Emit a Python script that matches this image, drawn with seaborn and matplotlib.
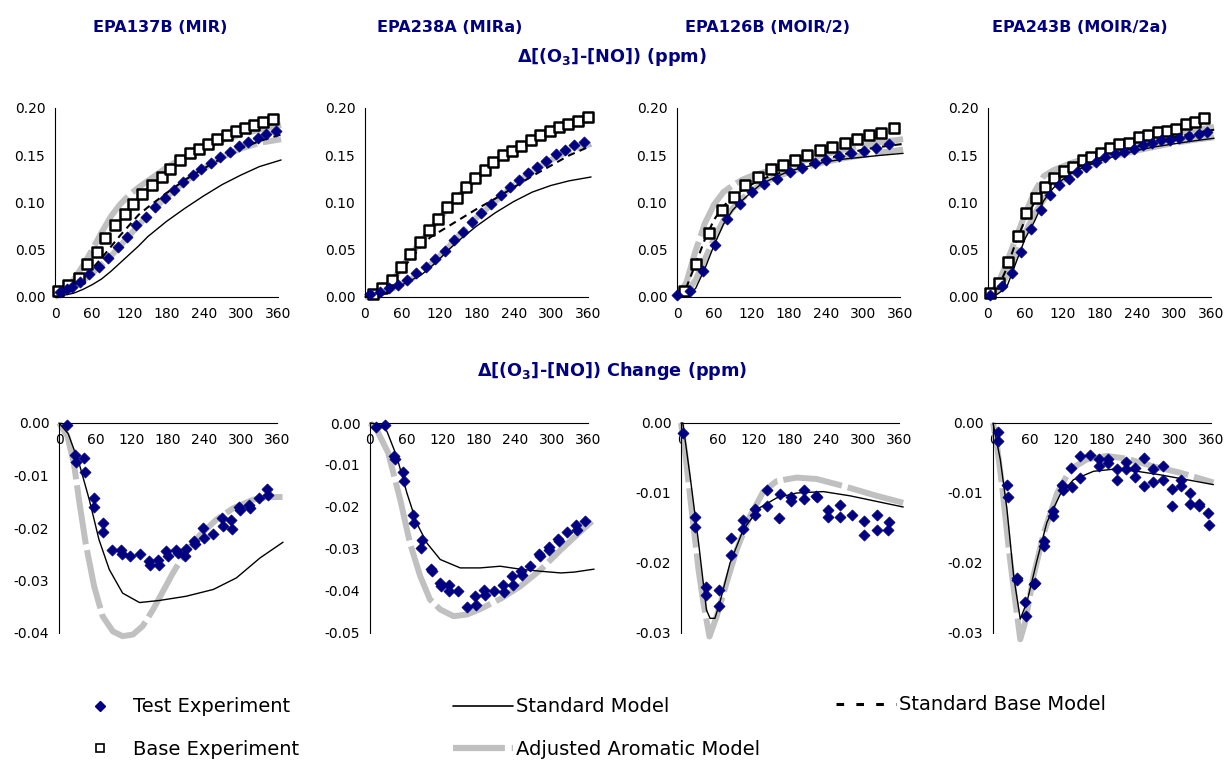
import numpy as np
import pandas as pd
import seaborn as sns
import matplotlib
matplotlib.use("Agg")
import matplotlib.pyplot as plt
from matplotlib.lines import Line2D
from matplotlib.ticker import FuncFormatter, MultipleLocator

# ---------------- data ----------------
titles = ["EPA137B (MIR)", "EPA238A (MIRa)", "EPA126B (MOIR/2)", "EPA243B (MOIR/2a)"]
x_ticks = [0, 60, 120, 180, 240, 300, 360]

# common time grid for the top-row model curves (minutes)
top_t = [0, 15, 30, 45, 60, 75, 90, 105, 120, 135, 150, 180, 210, 240, 270, 300, 330, 365]

# Panel 1 : EPA137B
p1_test_t = [8, 19, 28, 40, 55, 71, 86, 101, 117, 131, 147, 162, 177, 192, 207, 222, 236, 252, 266, 282, 297, 311, 327, 341, 357]
p1_test_v = [.005, .008, .011, .016, .024, .032, .041, .053, .064, .076, .085, .095, .105, .113, .122, .129, .135, .142, .148, .153, .160, .164, .168, .173, .176]
p1_base_t = [5, 21, 38, 52, 67, 81, 97, 113, 126, 141, 156, 172, 186, 202, 218, 232, 247, 261, 277, 292, 306, 321, 336, 352]
p1_base_v = [.006, .013, .020, .035, .048, .062, .076, .088, .098, .109, .118, .127, .135, .145, .152, .157, .162, .167, .171, .176, .179, .182, .185, .188]
p1_std = [0, .002, .004, .008, .013, .019, .027, .036, .045, .054, .064, .080, .094, .107, .119, .129, .138, .145]
p1_stdbase = [0, .005, .012, .021, .030, .041, .053, .065, .076, .087, .095, .110, .124, .136, .147, .157, .165, .172]
p1_adjtest = [0, .005, .010, .017, .025, .034, .043, .054, .065, .076, .087, .106, .122, .136, .148, .157, .163, .167]
p1_adjbase = [0, .007, .018, .033, .050, .068, .085, .098, .108, .116, .123, .137, .149, .158, .166, .172, .177, .182]

# Panel 2 : EPA238A
p2_test_t = [8, 24, 39, 54, 68, 83, 98, 113, 129, 143, 158, 173, 188, 204, 219, 234, 249, 263, 278, 293, 309, 323, 338, 353]
p2_test_v = [.003, .005, .009, .013, .018, .025, .032, .040, .049, .060, .069, .079, .089, .098, .108, .116, .124, .131, .138, .144, .151, .156, .161, .164]
p2_base_t = [13, 28, 43, 58, 72, 88, 103, 118, 133, 148, 163, 177, 193, 207, 222, 237, 252, 268, 282, 298, 313, 328, 344, 360]
p2_base_v = [.003, .009, .018, .032, .046, .058, .071, .083, .095, .105, .116, .126, .134, .143, .150, .155, .160, .166, .171, .176, .180, .183, .186, .190]
p2_std = [0, .002, .005, .009, .013, .018, .023, .031, .040, .050, .059, .075, .089, .101, .111, .118, .123, .127]
p2_stdbase = [0, .003, .009, .019, .030, .041, .053, .063, .069, .075, .081, .093, .104, .116, .128, .139, .150, .160]
p2_adjtest = [0, .002, .005, .009, .014, .019, .026, .034, .043, .053, .064, .084, .101, .118, .133, .145, .155, .162]
p2_adjbase = [0, .003, .008, .018, .032, .046, .058, .071, .083, .095, .106, .126, .143, .155, .165, .174, .182, .188]

# Panel 3 : EPA126B
p3_test_t = [0, 21, 42, 62, 81, 102, 121, 141, 162, 183, 202, 222, 241, 261, 281, 302, 322, 342]
p3_test_v = [.002, .006, .028, .055, .083, .098, .111, .120, .125, .132, .136, .142, .145, .149, .152, .155, .158, .162]
p3_base_t = [12, 31, 51, 72, 92, 110, 130, 151, 171, 190, 210, 231, 251, 271, 291, 310, 330, 351]
p3_base_v = [.006, .035, .068, .092, .106, .119, .127, .135, .140, .145, .150, .156, .159, .163, .167, .171, .174, .179]
p3_std = [0, .002, .009, .030, .055, .077, .092, .102, .111, .119, .124, .133, .138, .143, .146, .148, .150, .152]
p3_stdbase = [0, .010, .035, .061, .082, .096, .106, .113, .119, .124, .128, .134, .140, .146, .151, .156, .159, .162]
p3_adjtest = [0, .004, .018, .040, .062, .081, .094, .104, .112, .119, .124, .132, .138, .143, .147, .150, .153, .156]
p3_adjbase = [0, .015, .049, .078, .098, .111, .118, .124, .128, .131, .134, .140, .145, .151, .156, .160, .164, .167]

# Panel 4 : EPA243B
p4_test_t = [3, 22, 38, 54, 70, 85, 100, 115, 130, 144, 159, 174, 189, 205, 220, 235, 250, 265, 280, 294, 309, 325, 340, 354]
p4_test_v = [.002, .012, .025, .048, .072, .092, .108, .119, .125, .132, .138, .143, .148, .151, .153, .157, .161, .163, .166, .166, .168, .170, .173, .175]
p4_base_t = [3, 18, 32, 48, 62, 77, 92, 107, 123, 138, 153, 167, 182, 197, 212, 228, 243, 258, 274, 289, 304, 319, 334, 349]
p4_base_v = [.004, .015, .037, .065, .089, .105, .116, .126, .133, .138, .145, .148, .152, .158, .162, .163, .169, .171, .175, .176, .178, .183, .185, .189]
p4_std = [0, .003, .010, .036, .062, .080, .102, .115, .124, .131, .136, .144, .150, .155, .159, .162, .165, .168]
p4_stdbase = [0, .008, .030, .058, .082, .100, .113, .121, .128, .134, .139, .147, .153, .159, .164, .169, .173, .177]
p4_adjtest = [0, .006, .022, .045, .068, .088, .103, .115, .123, .130, .135, .143, .150, .155, .159, .163, .166, .169]
p4_adjbase = [0, .012, .036, .062, .088, .111, .128, .134, .138, .142, .145, .152, .157, .163, .167, .172, .176, .180]

# Bottom row: change (test - base)
p5_chg_t = [13, 27, 28, 42, 43, 57, 58, 72, 73, 88, 102, 104, 117, 133, 148, 150, 163, 165, 177, 180,
            194, 196, 208, 209, 223, 224, 238, 239, 255, 269, 270, 284, 285, 298, 299, 313, 315, 330, 343, 345]
p5_chg_v = [-.0003, -.0060, -.0075, -.0067, -.0094, -.0143, -.0160, -.0190, -.0208, -.0241,
            -.0241, -.0250, -.0254, -.0250, -.0263, -.0270, -.0260, -.0270, -.0244, -.0253,
            -.0241, -.0248, -.0254, -.0240, -.0225, -.0230, -.0200, -.0219, -.0211, -.0181,
            -.0197, -.0184, -.0201, -.0160, -.0165, -.0156, -.0162, -.0143, -.0126, -.0137]
p5_std_t = [0, 15, 33, 50, 66, 83, 105, 133, 166, 210, 255, 293, 332, 370]
p5_std_v = [0, -.0020, -.0076, -.0146, -.0222, -.0279, -.0324, -.0342, -.0338, -.0330, -.0317, -.0295, -.0257, -.0227]
p5_adj_t = [0, 14, 25, 33, 44, 58, 72, 89, 105, 122, 138, 155, 172, 188, 210, 233, 260, 288, 321, 343, 370]
p5_adj_v = [0, -.0025, -.0080, -.0146, -.0229, -.0311, -.0368, -.0397, -.0406, -.0403, -.0387, -.0356, -.0320,
            -.0286, -.0244, -.0213, -.0184, -.0162, -.0146, -.0141, -.0141]

p6_chg_t = [10, 25, 40, 41, 55, 56, 71, 72, 86, 85, 101, 102, 116, 117, 131, 131, 146, 160, 174, 175,
            189, 190, 204, 219, 221, 235, 236, 250, 251, 265, 279, 280, 295, 296, 310, 312, 326, 341, 342, 355]
p6_chg_v = [-.0010, -.0004, -.0079, -.0086, -.0117, -.0137, -.0218, -.0238, -.0278, -.0298,
            -.0348, -.0353, -.0381, -.0389, -.0385, -.0401, -.0401, -.0438, -.0413, -.0433,
            -.0397, -.0409, -.0401, -.0385, -.0403, -.0365, -.0385, -.0353, -.0361, -.0341,
            -.0311, -.0317, -.0295, -.0302, -.0276, -.0282, -.0260, -.0244, -.0254, -.0234]
p6_std_t = [0, 15, 28, 44, 61, 77, 94, 116, 149, 182, 215, 248, 282, 315, 337, 370]
p6_std_v = [0, -.0003, -.0020, -.0079, -.0167, -.0238, -.0286, -.0325, -.0345, -.0345, -.0341, -.0348, -.0353, -.0357, -.0355, -.0348]
p6_adj_t = [0, 11, 30, 50, 66, 83, 99, 116, 138, 160, 182, 215, 248, 282, 315, 348, 370]
p6_adj_v = [0, -.0016, -.0071, -.0183, -.0286, -.0365, -.0420, -.0444, -.0460, -.0456, -.0443, -.0419, -.0389,
            -.0349, -.0302, -.0258, -.0230]

p7_chg_t = [3, 23, 23, 42, 42, 63, 63, 83, 82, 103, 102, 122, 122, 142, 142, 163, 162, 182, 182, 203,
            203, 223, 224, 243, 243, 263, 262, 283, 303, 303, 323, 323, 343, 342]
p7_chg_v = [-.0014, -.0134, -.0148, -.0234, -.0245, -.0239, -.0262, -.0164, -.0188, -.0138,
            -.0151, -.0123, -.0132, -.0096, -.0119, -.0102, -.0136, -.0105, -.0112, -.0096,
            -.0109, -.0104, -.0106, -.0124, -.0134, -.0117, -.0134, -.0132, -.0140, -.0160,
            -.0131, -.0153, -.0141, -.0153]
p7_std_t = [0, 3, 15, 29, 42, 48, 56, 64, 81, 103, 130, 158, 191, 235, 279, 323, 367]
p7_std_v = [0, 0, -.0076, -.0171, -.0267, -.0279, -.0279, -.0257, -.0200, -.0152, -.0121, -.0107, -.0100, -.0098, -.0104, -.0112, -.0120]
p7_adj_t = [0, 7, 15, 29, 37, 47, 59, 75, 92, 114, 136, 158, 191, 224, 268, 323, 367]
p7_adj_v = [0, -.0043, -.0105, -.0210, -.0257, -.0305, -.0276, -.0229, -.0181, -.0133, -.0098, -.0083, -.0078,
            -.0080, -.0090, -.0104, -.0114]

p8_chg_t = [9, 9, 23, 25, 39, 40, 53, 55, 67, 70, 84, 84, 99, 99, 114, 116, 129, 130, 144, 144,
            160, 175, 175, 190, 190, 205, 205, 220, 220, 235, 235, 250, 250, 265, 265, 281, 281,
            296, 296, 311, 311, 326, 325, 341, 341, 355, 356]
p8_chg_v = [-.0013, -.0026, -.0088, -.0105, -.0221, -.0224, -.0256, -.0276, -.0230, -.0228,
            -.0169, -.0176, -.0126, -.0133, -.0088, -.0095, -.0064, -.0091, -.0047, -.0078,
            -.0045, -.0052, -.0062, -.0051, -.0057, -.0066, -.0082, -.0056, -.0066, -.0064, -.0077,
            -.0050, -.0090, -.0066, -.0084, -.0062, -.0081, -.0094, -.0119, -.0081, -.0090,
            -.0100, -.0116, -.0115, -.0118, -.0128, -.0146]
p8_std_t = [0, 12, 23, 34, 45, 56, 73, 89, 111, 133, 166, 199, 238, 276, 320, 364]
p8_std_v = [0, -.0052, -.0123, -.0218, -.0280, -.0256, -.0195, -.0142, -.0102, -.0081, -.0069, -.0066, -.0069, -.0074, -.0081, -.0088]
p8_adj_t = [0, 6, 15, 26, 37, 45, 53, 67, 84, 106, 128, 155, 188, 221, 265, 309, 364]
p8_adj_v = [0, -.0028, -.0090, -.0180, -.0256, -.0309, -.0285, -.0218, -.0157, -.0100, -.0066, -.0052, -.0047,
            -.0051, -.0062, -.0071, -.0085]

bottom_ymins = [-0.04, -0.05, -0.03, -0.03]

# ---------------- style ----------------
NAVY = "#000080"
SILVER = "#C0C0C0"
sns.set_style("white")
plt.rcParams["font.family"] = ["DejaVu Sans"]
plt.rcParams["axes.unicode_minus"] = False
plt.rcParams["text.color"] = "black"

GRAY_LS = (0, (10, 1))
DASH_LS = (0, (3.5, 2.5))

fig = plt.figure(figsize=(12.26, 7.63), dpi=100)

W = 1226.0
H = 763.0
top_lefts = [55, 365, 677, 988]
bot_lefts = [59, 370, 681, 993]

top_sets = [
    (p1_test_t, p1_test_v, p1_base_t, p1_base_v, p1_std, p1_stdbase, p1_adjtest, p1_adjbase),
    (p2_test_t, p2_test_v, p2_base_t, p2_base_v, p2_std, p2_stdbase, p2_adjtest, p2_adjbase),
    (p3_test_t, p3_test_v, p3_base_t, p3_base_v, p3_std, p3_stdbase, p3_adjtest, p3_adjbase),
    (p4_test_t, p4_test_v, p4_base_t, p4_base_v, p4_std, p4_stdbase, p4_adjtest, p4_adjbase),
]
bot_sets = [
    (p5_chg_t, p5_chg_v, p5_std_t, p5_std_v, p5_adj_t, p5_adj_v),
    (p6_chg_t, p6_chg_v, p6_std_t, p6_std_v, p6_adj_t, p6_adj_v),
    (p7_chg_t, p7_chg_v, p7_std_t, p7_std_v, p7_adj_t, p7_adj_v),
    (p8_chg_t, p8_chg_v, p8_std_t, p8_std_v, p8_adj_t, p8_adj_v),
]


def style_axis(ax):
    for s in ["top", "right"]:
        ax.spines[s].set_visible(False)
    for s in ["left", "bottom"]:
        ax.spines[s].set_color("black")
        ax.spines[s].set_linewidth(0.8)
    ax.tick_params(axis="both", direction="out", length=4, width=0.8, color="black",
                   labelsize=10, pad=3, labelcolor="black")
    ax.set_xlim(0, 360)
    ax.xaxis.set_major_locator(MultipleLocator(60))
    ax.set_xlabel("")
    ax.set_ylabel("")
    ax.patch.set_alpha(0)


def line(ax, t, v, **kw):
    df = pd.DataFrame({"t": t, "v": v})
    sns.lineplot(data=df, x="t", y="v", ax=ax, estimator=None, sort=False, clip_on=False, **kw)


for i, (tt, tv, bt, bv, std, stdb, adjt, adjb) in enumerate(top_sets):
    ax = fig.add_axes([top_lefts[i] / W, 1 - 297 / H, 223 / W, (297 - 108) / H])
    line(ax, top_t, adjt, color=SILVER, linewidth=4.3, linestyle=GRAY_LS, zorder=2)
    line(ax, top_t, adjb, color=SILVER, linewidth=4.3, linestyle=GRAY_LS, zorder=2)
    line(ax, top_t, std, color="black", linewidth=1.0, zorder=3)
    line(ax, top_t, stdb, color="black", linewidth=1.5, linestyle=DASH_LS, zorder=3)
    sns.scatterplot(x=bt, y=bv, ax=ax, marker="s", s=42, color="white", edgecolor="black",
                    linewidth=1.8, zorder=4, clip_on=False)
    sns.scatterplot(x=tt, y=tv, ax=ax, marker="D", s=32, color=NAVY, edgecolor=NAVY,
                    linewidth=0.5, zorder=5, clip_on=False)
    style_axis(ax)
    ax.set_ylim(0, 0.2)
    ax.yaxis.set_major_locator(MultipleLocator(0.05))
    ax.yaxis.set_major_formatter(FuncFormatter(lambda y, p: f"{y:.2f}"))
    ax.set_xticks(x_ticks)

for i, (ct, cv, st, sv, at, av) in enumerate(bot_sets):
    ax = fig.add_axes([bot_lefts[i] / W, 1 - 633 / H, 218 / W, (633 - 423) / H])
    line(ax, at, av, color=SILVER, linewidth=4.3, linestyle=GRAY_LS, zorder=2)
    line(ax, st, sv, color="black", linewidth=1.0, zorder=3)
    sns.scatterplot(x=ct, y=cv, ax=ax, marker="D", s=32, color=NAVY, edgecolor=NAVY,
                    linewidth=0.5, zorder=5, clip_on=False)
    style_axis(ax)
    ax.set_ylim(bottom_ymins[i], 0)
    ax.spines["bottom"].set_position(("data", 0))
    ax.yaxis.set_major_locator(MultipleLocator(0.01))
    ax.yaxis.set_major_formatter(FuncFormatter(lambda y, p: "0.00" if abs(y) < 1e-9 else f"{y:.2f}"))
    ax.set_xticks(x_ticks)

# titles
title_x = [160, 450, 768, 1080]
for tx, ttl in zip(title_x, titles):
    fig.text(tx / W, 1 - 27 / H, ttl, ha="center", va="center", color=NAVY,
             fontsize=11.6, fontweight="bold")
fig.text(612 / W, 1 - 57 / H, "Δ[(O$_\\mathbf{3}$]-[NO]) (ppm)", ha="center", va="center",
         color=NAVY, fontsize=12.7, fontweight="bold")
fig.text(612 / W, 1 - 371 / H, "Δ[(O$_\\mathbf{3}$]-[NO]) Change (ppm)", ha="center", va="center",
         color=NAVY, fontsize=12.7, fontweight="bold")

# legend (three columns)
h_test = Line2D([], [], marker="D", color=NAVY, linestyle="None", markersize=5)
h_base = Line2D([], [], marker="s", markerfacecolor="white", markeredgecolor="black",
                markeredgewidth=1.2, linestyle="None", markersize=6)
h_std = Line2D([], [], color="black", linewidth=1.2)
h_adj = Line2D([], [], color=SILVER, linewidth=4.5, linestyle=(0, (8.3, 1.1)))
h_stdb = Line2D([], [], color="black", linewidth=2.2, linestyle=(0, (2.5, 4)))

leg_kw = dict(frameon=False, fontsize=14, handlelength=3.1, handletextpad=0.15,
              borderpad=0, borderaxespad=0, labelspacing=1.2, loc="center left",
              labelcolor="black")
fig.legend([h_test, h_base], ["Test Experiment", "Base Experiment"],
           bbox_to_anchor=(70 / W, 1 - 728 / H), **leg_kw)
fig.legend([h_std, h_adj], ["Standard Model", "Adjusted Aromatic Model"],
           bbox_to_anchor=(453 / W, 1 - 728 / H), **leg_kw)
fig.legend([h_stdb], ["Standard Base Model"],
           bbox_to_anchor=(836 / W, 1 - 705 / H), **leg_kw)

fig.savefig("out.png", dpi=100)
